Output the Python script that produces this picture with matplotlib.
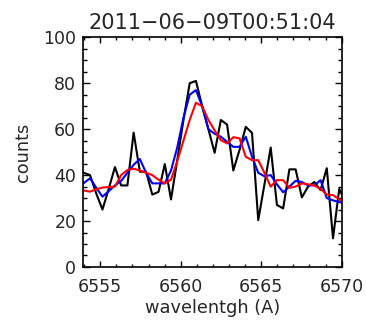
import numpy as np
import matplotlib
matplotlib.use("Agg")
import matplotlib.pyplot as plt
from matplotlib.ticker import MultipleLocator

# wavelength grid (Angstrom)
wave_start = 6553.98
wave_step = 0.387
observed = [41, 40, 32, 25, 34, 43.5, 35.5, 35.5, 58.5, 41.5,
            41.5, 31.5, 32.7, 44.8, 29.4, 46.5, 64, 80, 81, 70,
            60, 49.7, 64, 62, 42, 51, 61, 58.4, 20.4, 36,
            52, 27, 25.5, 42.5, 42.5, 30.3, 35, 37, 33.5, 43,
            12.5, 34, 28]
smooth_blue = [36.5, 38.6, 34.5, 30.6, 33, 35.5, 37.5, 41, 44.5, 47,
               41, 36.4, 36.4, 36.4, 42, 52, 65, 75, 77, 70,
               60, 58, 56.7, 54.5, 52.3, 52.3, 56.7, 48, 41, 39.5,
               40, 36, 32.5, 35, 37.5, 37, 35.5, 35.5, 37.8, 30,
               29, 28.3, 27.5]
smooth_red = [33.3, 32.8, 33.8, 34.6, 34.8, 35, 40, 42.2, 42.8, 42,
              41, 40, 38, 36.4, 38, 46, 55, 64, 71.5, 70,
              64, 59.5, 55.2, 53.8, 56.5, 56, 48, 46.5, 46.5, 41,
              35, 37.8, 37.8, 34.5, 35, 36.4, 36, 35.5, 34, 31.5,
              31.3, 29.5, 27.5]
wave = wave_start + wave_step * np.arange(len(observed))

title = "2011\u221206\u221209T00:51:04"
xlabel = "wavelentgh (A)"
ylabel = "counts"
xticks = [6555, 6560, 6565, 6570]
yticks = [0, 20, 40, 60, 80, 100]

txt = '#262626'
plt.rcParams['font.family'] = ['DejaVu Sans']
fig = plt.figure(figsize=(3.66, 3.24), dpi=100)
ax = fig.add_axes([0.2276, 0.176, 0.706, 0.7089])

ax.plot(wave, observed, color='black', lw=1.5)
ax.plot(wave, smooth_blue, color='#0000ff', lw=1.5)
ax.plot(wave, smooth_red, color='#ff0000', lw=1.5)

ax.set_xlim(6553.95, 6570.0)
ax.set_ylim(0, 100)
ax.set_xticks(xticks)
ax.set_yticks(yticks)
ax.xaxis.set_minor_locator(MultipleLocator(1))
ax.yaxis.set_minor_locator(MultipleLocator(5))
ax.tick_params(which='both', direction='in', top=True, right=True,
               labelsize=12.5, color='black', labelcolor=txt, width=1.0)
ax.tick_params(axis='x', which='major', length=4, pad=8)
ax.tick_params(axis='x', which='minor', length=2)
ax.tick_params(axis='y', which='major', length=5, pad=5)
ax.tick_params(axis='y', which='minor', length=3)
for s in ax.spines.values():
    s.set_linewidth(1.2)

ax.set_title(title, fontsize=15, pad=6, color=txt)
ax.set_xlabel(xlabel, fontsize=12.8, labelpad=2, color=txt)
ax.set_ylabel(ylabel, fontsize=12.8, labelpad=8, color=txt)

fig.savefig("out.png", dpi=100)
